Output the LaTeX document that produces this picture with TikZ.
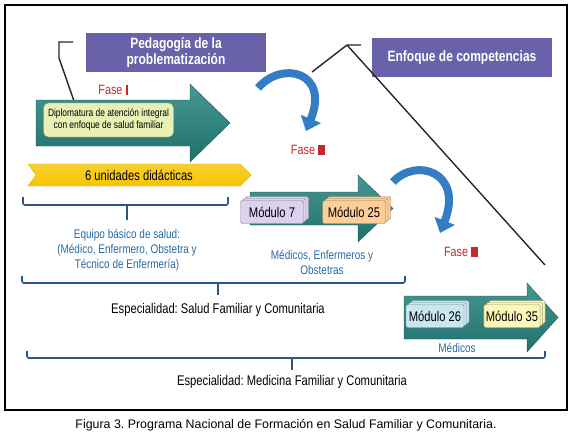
\documentclass[tikz,border=0pt]{standalone}
\usepackage{fontspec}
\setmainfont{Liberation Sans}
\newfontfamily\narrowsf{Liberation Sans}[FakeStretch=0.8]
\frenchspacing
\usetikzlibrary{shapes, arrows.meta, positioning, calc, shadows}
\definecolor{titlepurple}{RGB}{105, 97, 170}
\definecolor{arrowteal}{RGB}{38, 132, 126}
\definecolor{bandyellow}{RGB}{248, 196, 0}
\definecolor{diplogreen}{RGB}{232, 240, 180}
\definecolor{labelblue}{RGB}{40, 105, 165}
\definecolor{bracketblue}{RGB}{42, 86, 135}
\definecolor{faseRed}{RGB}{200, 40, 40}
\definecolor{bendblue}{RGB}{52, 124, 196}
\definecolor{cardlilac}{RGB}{218, 210, 238}
\definecolor{cardpeach}{RGB}{252, 206, 152}
\definecolor{cardsky}{RGB}{202, 230, 238}
\definecolor{cardlemon}{RGB}{252, 247, 185}

\begin{document}
\begin{tikzpicture}[x=1pt, y=-1pt,
  titlebox/.style={fill=titlepurple, text=white, minimum width=180pt, minimum height=39pt, align=center, inner sep=0pt, font=\narrowsf\bfseries\fontsize{15}{16.5}\selectfont},
  tealarrow/.style={top color=arrowteal!85!white, bottom color=arrowteal!85!black, draw=arrowteal!70!black, line width=0.4pt},
  modcard/.style={draw=#1!60!black, fill=#1, rounded corners=1.5pt, minimum height=23pt, inner sep=2pt, font=\narrowsf\fontsize{14}{15}\selectfont, double copy shadow={shadow xshift=2.5pt, shadow yshift=2pt}},
  bluelabel/.style={text=labelblue, align=center, font=\narrowsf\fontsize{12.5}{15}\selectfont},
  darklabel/.style={align=center, font=\narrowsf\fontsize{14}{15}\selectfont},
  fase/.style={text=faseRed, font=\narrowsf\fontsize{13.5}{15}\selectfont},
  bracket/.style={draw=bracketblue, line width=1.6pt, rounded corners=2pt},
  bendarrow/.style={draw=bendblue, line width=8pt, -{Triangle[length=13pt, width=21pt]}},
  guide/.style={draw=black!85, line width=1.4pt}
]
  \useasboundingbox (0,0) rectangle (573,437);
  \draw[line width=1.3pt] (5,5) rectangle (567,410);

  % titles
  \node[titlebox] (pedagogia) at (176,52.5) {Pedagogía de la\\problematización};
  \node[titlebox] (enfoque) at (462,57.5) {Enfoque de competencias};

  % guide lines
  \coordinate (g1a) at (73,42);
  \coordinate (g1b) at (59,42);
  \coordinate (g1c) at (59,58);
  \coordinate (g1d) at (74,101);
  \draw[guide] (g1a) -- (g1b) -- (g1c) -- (g1d);
  \coordinate (g2a) at (312,72);
  \coordinate (g2b) at (347,45);
  \coordinate (g2c) at (361,45);
  \coordinate (g2d) at (545,265);
  \draw[guide] (g2a) -- (g2b) -- (g2c);
  \draw[guide] (g2b) -- (g2d);

  % phase I
  \node[fase] (fase1) at (113,90) {Fase~\rule{2pt}{9.5pt}};
  \path[tealarrow] (36,100) -- (190,100) -- (190,84) -- (230,123) -- (190,162) -- (190,146) -- (36,146) -- cycle;
  \node[draw=diplogreen!70!black, fill=diplogreen, rounded corners=5pt, minimum width=130pt, minimum height=34pt,
        align=center, font=\narrowsf\fontsize{10.5}{12}\selectfont] (diplomatura) at (108.5,120)
        {Diplomatura de atención integral\\con enfoque de salud familiar};
  \path[top color=bandyellow!80!white, bottom color=bandyellow, draw=bandyellow!90!black]
    (28,164) -- (240,164) -- (251,175) -- (240,186) -- (28,186) -- (36,175) -- cycle;
  \node[darklabel] (unidades) at (139,175) {6 unidades didácticas};

  % phase II
  \draw[bendarrow] (258,88) .. controls (282,60) and (330,72) .. (306,131);
  \node[fase] (fase2) at (308,150) {Fase~\rule{7pt}{9.5pt}};
  \path[tealarrow] (250,192) -- (358,192) -- (358,175) -- (393,208.5) -- (358,242) -- (358,225) -- (250,225) -- cycle;
  \node[modcard=cardlilac, minimum width=63pt] (modulo7) at (272,212) {Módulo 7};
  \node[modcard=cardpeach, minimum width=63pt] (modulo25) at (354,212) {Módulo 25};
  \node[bluelabel] (medenf) at (322,262) {Médicos, Enfermeros y\\Obstetras};

  % phase III
  \draw[bendarrow] (393,182) .. controls (416,157) and (464,172) .. (440,233);
  \node[fase] (fase3) at (461,252) {Fase~\rule{7pt}{9.5pt}};
  \path[tealarrow] (404,296) -- (527,296) -- (527,283) -- (558,317.5) -- (527,352) -- (527,339) -- (404,339) -- cycle;
  \node[modcard=cardsky, minimum width=58pt] (modulo26) at (435,316) {Módulo 26};
  \node[modcard=cardlemon, minimum width=56pt] (modulo35) at (512,316) {Módulo 35};
  \node[bluelabel] (medicos) at (457,348) {Médicos};

  % brackets
  \draw[bracket] (23,197) -- (23,205) -- (228,205) -- (228,197);
  \draw[bracket] (127,205) -- (127,220);
  \node[bluelabel] (equipo) at (127,250) {Equipo básico de salud:\\(Médico, Enfermero, Obstetra y\\Técnico de Enfermería)};
  \draw[bracket] (22,276) -- (22,283) -- (405,283) -- (405,276);
  \draw[bracket] (218,283) -- (218,295);
  \node[darklabel] (salud) at (218,310) {Especialidad: Salud Familiar y Comunitaria};
  \draw[bracket] (27,351) -- (27,358) -- (545,358) -- (545,351);
  \draw[bracket] (292,358) -- (292,370);
  \node[darklabel] (medicina) at (292,382) {Especialidad: Medicina Familiar y Comunitaria};

  \node[font=\fontsize{12.4}{14}\selectfont] (caption) at (286,425)
    {Figura 3. Programa Nacional de Formación en Salud Familiar y Comunitaria.};
\end{tikzpicture}
\end{document}
